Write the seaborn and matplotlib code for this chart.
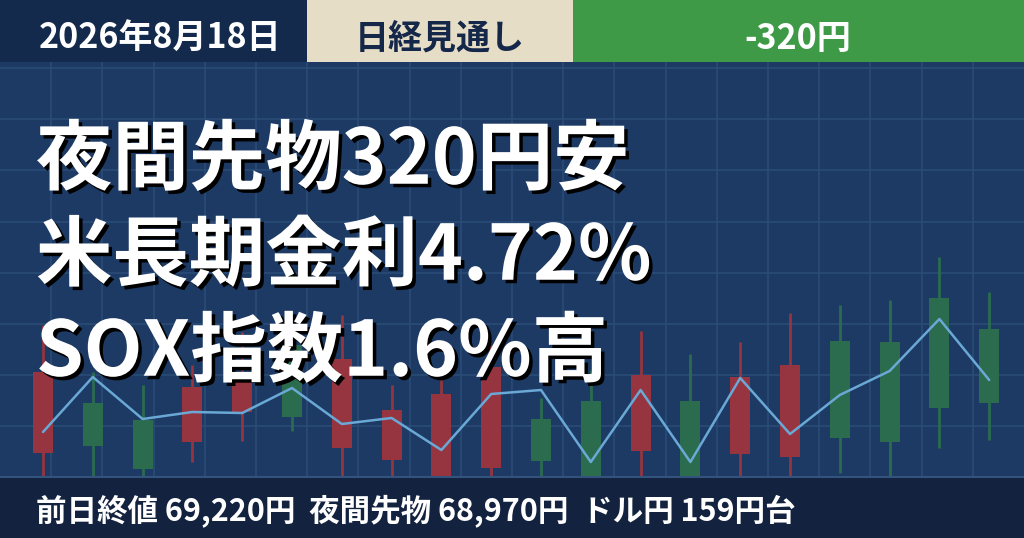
import matplotlib
matplotlib.use('Agg')
import matplotlib.pyplot as plt
import matplotlib.patheffects as pe
from matplotlib.patches import Rectangle
import seaborn as sns
import pandas as pd
import numpy as np

sns.set_theme(style='dark')
plt.rcParams['font.family'] = ['Noto Sans CJK JP', 'DejaVu Sans']

# ---------------- data ----------------
days = list(range(20))
open_ = [104, 30, 7, 89, 96, 59, 117, 66, 82, 109, 15, -14, 101, -14, 99, 111, 38, 34, 68, 73]
high = [151, 104, 91, 111, 144, 151, 161, 91, 96, 131, 78, 106, 145, 122, 134, 163, 171, 176, 219, 184]
low = [-14, -14, -14, 14, 35, 45, -14, -14, -14, -14, -14, -14, -14, -14, -14, -14, 3, -14, 28, 36]
close = [23, 73, 56, 34, 64, 131, 28, 16, -14, 8, 57, 75, 25, 75, 22, 19, 135, 134, 178, 147]
trend = [44, 99, 57, 64, 63, 88, 52, 58, 26, 82, 86, 14, 86, 14, 98, 42, 81, 105, 157, 96]

date_label = "2026年8月18日"
tag_label = "日経見通し"
change_label = "-320円"
headlines = ["夜間先物320円安", "米長期金利4.72%", "SOX指数1.6%高"]
footer = "前日終値 69,220円  夜間先物 68,970円  ドル円 159円台"

# ---------------- colours ----------------
BG = '#1c3a64'
GRID = '#2b4b78'
HEAD_DARK = '#132a4c'
BEIGE = '#e6ddc6'
GREEN_HEAD = '#3f9a47'
FOOT = '#12223f'
UP = '#2b6c4f'
DOWN = '#963540'
LINE = '#6aa8d6'

W, H = 1024, 538
fig = plt.figure(figsize=(W / 100, H / 100), dpi=100)
fig.patch.set_facecolor(BG)

# background / decoration axes in pixel coordinates
bg = fig.add_axes([0, 0, 1, 1])
bg.set_xlim(0, W)
bg.set_ylim(H, 0)
bg.axis('off')
bg.add_patch(Rectangle((0, 0), W, H, color=BG, zorder=0))
for k in range(1, 20):
    bg.plot([51.2 * k, 51.2 * k], [62, 477], color=GRID, lw=1.2, zorder=1)
for k in range(0, 9):
    y = 68 + 51.2 * k
    bg.plot([0, W], [y, y], color=GRID, lw=1.2, zorder=1)
# header boxes
bg.add_patch(Rectangle((0, 0), 307, 62, color=HEAD_DARK, lw=0, zorder=2))
bg.add_patch(Rectangle((307, 0), 266, 62, color=BEIGE, lw=0, zorder=2))
bg.add_patch(Rectangle((573, 0), W - 573, 62, color=GREEN_HEAD, lw=0, zorder=2))
# footer
bg.add_patch(Rectangle((0, 477), W, H - 477, color=FOOT, lw=0, zorder=2))
bg.plot([0, W], [477, 477], color='#34527e', lw=1.5, zorder=3)

# candle axes
ax = fig.add_axes([0, (H - 476) / H, 1, (476 - 68) / H])
ax.set_facecolor('none')

df = pd.DataFrame({'day': days, 'open': open_, 'high': high, 'low': low,
                   'close': close, 'trend': trend})
colors = [UP if c >= o else DOWN for o, c in zip(df['open'], df['close'])]
ax.vlines(df['day'], df['low'], df['high'], colors=colors, lw=2, zorder=2)
bottoms = np.minimum(df['open'], df['close'])
heights = np.abs(df['close'] - df['open'])
ax.bar(df['day'], heights, bottom=bottoms, width=0.4, color=colors,
       edgecolor='none', linewidth=0, zorder=3)
sns.lineplot(data=df, x='day', y='trend', ax=ax, color=LINE, lw=1.8, zorder=4)
ax.set_xlim(-43 / 49.8, (W - 43) / 49.8)
ax.set_ylim(0, 408)
ax.axis('off')

def fx(x):
    return x / W

def fy(y):
    return 1 - y / H

fig.text(fx(160), fy(38), date_label, color='white', fontsize=24.5, fontweight='bold',
         ha='center', va='center')
fig.text(fx(440), fy(38), tag_label, color='#16284a', fontsize=24.5, fontweight='bold',
         ha='center', va='center')
fig.text(fx(798), fy(38), change_label, color='white', fontsize=24.5, fontweight='bold',
         ha='center', va='center')

shadow = [pe.SimplePatchShadow(offset=(2.5, -2.5), shadow_rgbFace='black', alpha=1.0), pe.Normal()]
for txt, yc in zip(headlines, [161, 257, 353]):
    fig.text(fx(36), fy(yc), txt, color='white', fontsize=55, fontweight='bold',
             ha='left', va='center', path_effects=shadow)

fig.text(fx(36), fy(511), footer, color='white', fontsize=22, fontweight='bold',
         ha='left', va='center')

fig.savefig('out.png', dpi=100, facecolor=BG)
